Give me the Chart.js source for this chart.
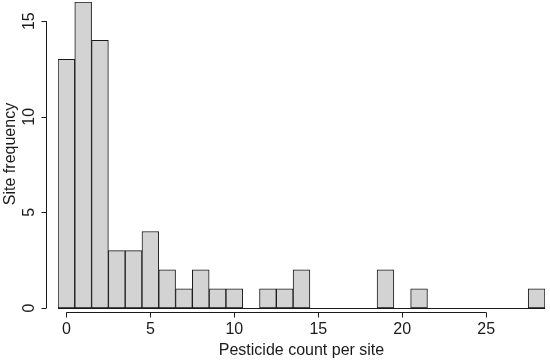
<!DOCTYPE html>
<html>
<head>
<meta charset="utf-8">
<script src="https://cdn.jsdelivr.net/npm/chart.js@4"></script>
<style>
  html, body { margin: 0; padding: 0; background: #fff; }
  #wrap { width: 550px; height: 363px; }
</style>
</head>
<body>
<div id="wrap"><canvas id="chartPesticidas"></canvas></div>
<script>
// datos del histograma
const pesticideCounts = [0, 1, 2, 3, 4, 5, 6, 7, 8, 9, 10, 11, 12, 13, 14, 15, 16, 17, 18, 19, 20, 21, 22, 23, 24, 25, 26, 27, 28];
const siteFrequency = [13, 16, 14, 3, 3, 4, 2, 1, 2, 1, 1, 0, 1, 1, 2, 0, 0, 0, 0, 2, 0, 1, 0, 0, 0, 0, 0, 0, 1];
const xTicks = [0, 5, 10, 15, 20, 25];
const yTicks = [0, 5, 10, 15];
const xTitle = "Pesticide count per site";
const yTitle = "Site frequency";

const FONT = '16px "Liberation Sans", Arial, sans-serif';
const INK = "#1a1a1a";

// ejes al estilo de R, dibujados con las escalas de Chart.js
const rAxes = {
    id: "rAxes",
    afterDatasetsDraw(chart) {
        const ctx = chart.ctx;
        const x = chart.scales.x, y = chart.scales.y;
        ctx.save();
        ctx.strokeStyle = INK;
        ctx.fillStyle = INK;
        ctx.lineWidth = 1;
        ctx.font = FONT;

        // linea base para las clases vacias
        const y0 = Math.round(y.getPixelForValue(0)) + 0.5;
        ctx.beginPath();
        ctx.moveTo(x.getPixelForValue(-0.5), y0);
        ctx.lineTo(x.getPixelForValue(28.5), y0);
        ctx.stroke();

        // eje x
        const ax = y0 + 4;
        ctx.beginPath();
        ctx.moveTo(x.getPixelForValue(xTicks[0]), ax);
        ctx.lineTo(x.getPixelForValue(xTicks[xTicks.length - 1]), ax);
        xTicks.forEach(t => {
            const px = Math.round(x.getPixelForValue(t)) + 0.5;
            ctx.moveTo(px, ax);
            ctx.lineTo(px, ax + 5);
        });
        ctx.stroke();
        ctx.textAlign = "center";
        ctx.textBaseline = "middle";
        xTicks.forEach(t => ctx.fillText(String(t), x.getPixelForValue(t), 330));
        ctx.fillText(xTitle, (chart.chartArea.left + chart.chartArea.right) / 2, 351);

        // eje y
        const ay = 46.5;
        ctx.beginPath();
        ctx.moveTo(ay, y.getPixelForValue(yTicks[0]));
        ctx.lineTo(ay, y.getPixelForValue(yTicks[yTicks.length - 1]));
        yTicks.forEach(t => {
            const py = Math.round(y.getPixelForValue(t)) + 0.5;
            ctx.moveTo(ay, py);
            ctx.lineTo(ay - 5, py);
        });
        ctx.stroke();
        yTicks.forEach(t => {
            ctx.save();
            ctx.translate(30, y.getPixelForValue(t));
            ctx.rotate(-Math.PI / 2);
            ctx.fillText(String(t), 0, 0);
            ctx.restore();
        });
        ctx.save();
        ctx.translate(11, 154);
        ctx.rotate(-Math.PI / 2);
        ctx.fillText(yTitle, 0, 0);
        ctx.restore();

        ctx.restore();
    }
};

const ctxPest = document.getElementById("chartPesticidas").getContext("2d");
const chartPest = new Chart(ctxPest, {
    type: "bar",
    data: {
        datasets: [{
            data: pesticideCounts.map((c, i) => ({ x: c, y: siteFrequency[i] })),
            backgroundColor: "#d3d3d3",
            borderColor: INK,
            borderWidth: 1,
            borderSkipped: false,
            barPercentage: 1,
            categoryPercentage: 1
        }]
    },
    options: {
        responsive: true,
        maintainAspectRatio: false,
        animation: false,
        events: [],
        layout: { padding: { left: 58, right: 5, top: 2, bottom: 55 } },
        plugins: { legend: { display: false }, tooltip: { enabled: false } },
        scales: {
            x: { type: "linear", min: -0.5, max: 28.5, offset: false, display: false },
            y: { type: "linear", min: 0, max: 16, display: false }
        }
    },
    plugins: [rAxes]
});
</script>
</body>
</html>
